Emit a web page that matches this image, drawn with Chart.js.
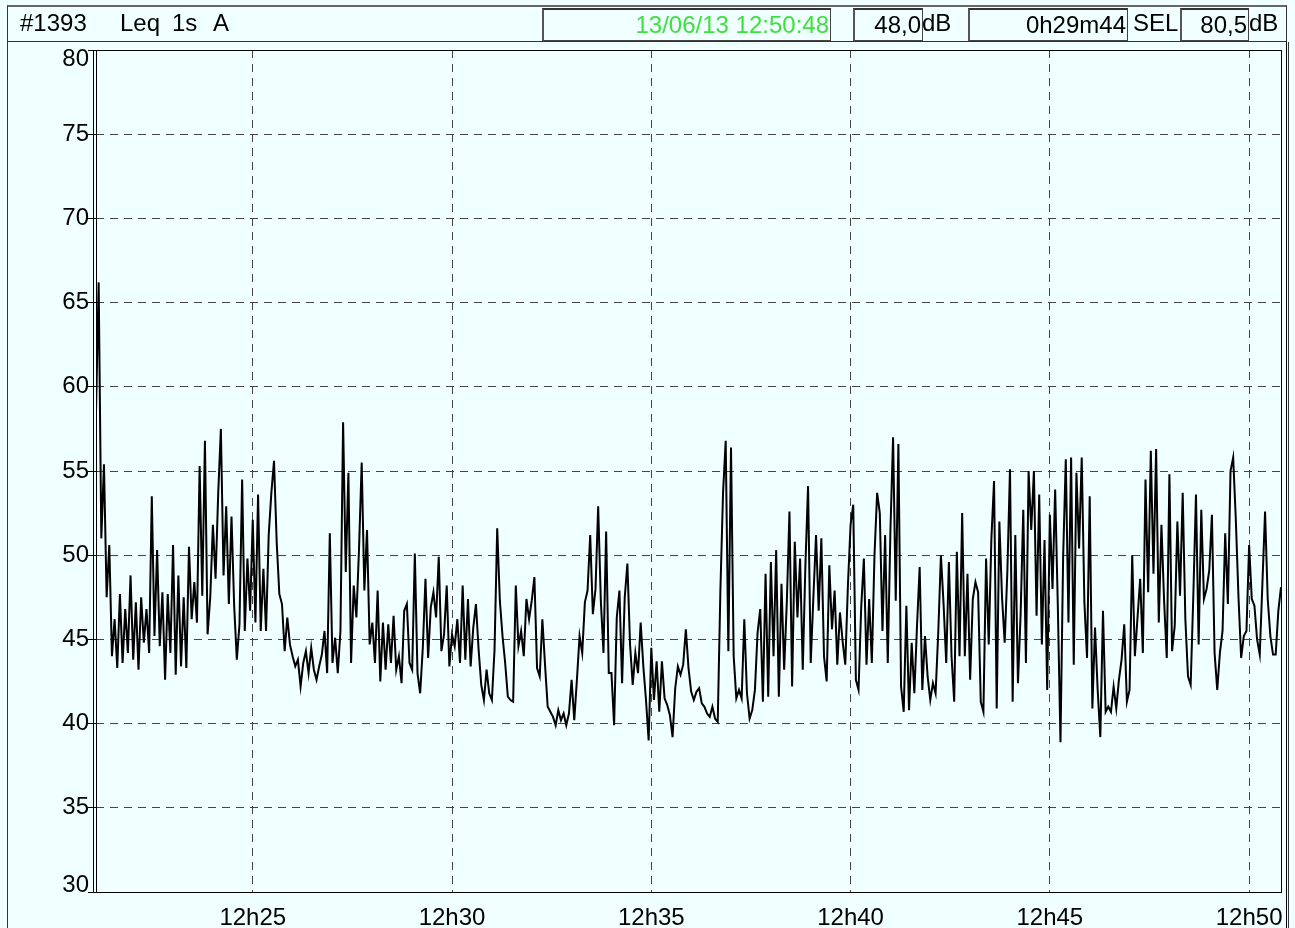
<!DOCTYPE html>
<html>
<head>
<meta charset="utf-8">
<title>Leq 1s A</title>
<script src="https://cdn.jsdelivr.net/npm/chart.js@4.4.0/dist/chart.umd.min.js"></script>
<style>
  html, body { margin: 0; padding: 0; width: 1295px; height: 928px; overflow: hidden; background: #f0ffff;
    font-family: "Liberation Sans", Arial, sans-serif; }
  #chart { position: absolute; left: 0; top: 0; }
  #frame { position: absolute; left: 7px; top: 42px; width: 1280px; height: 890px;
    border-left: 1px solid #333; border-right: 1px solid #333; }
  #header { position: absolute; left: 7px; top: 5px; width: 1280px; height: 37px;
    border-top: 2px solid #666; border-left: 1px solid #333; border-right: 1px solid #333; border-bottom: 1px solid #333; box-sizing: border-box; }
  .txt { position: absolute; top: 11px; font-size: 24px; line-height: 24px; color: #000; white-space: pre; }
  .box { position: absolute; top: 8px; height: 33px; box-sizing: border-box;
    border: 1px solid #444; border-top: 2px solid #333; border-left: 2px solid #555; }
  .box span { position: absolute; right: 1px; top: 3px; font-size: 24px; line-height: 24px; white-space: pre; }
</style>
</head>
<body>
<canvas id="chart" width="1295" height="928"></canvas>
<div id="frame"></div>
<div id="header"></div>
<div class="txt" style="left:20px">#1393</div>
<div class="txt" style="left:120px">Leq</div>
<div class="txt" style="left:172px">1s</div>
<div class="txt" style="left:213px">A</div>
<div class="box" style="left:542px; width:289px"><span id="stamp" style="color:#3ee03e"></span></div>
<div class="box" style="left:853px; width:70px"><span id="leq"></span></div>
<div class="txt" style="left:922px">dB</div>
<div class="box" style="left:968px; width:160px"><span id="dur"></span></div>
<div class="txt" style="left:1133px">SEL</div>
<div class="box" style="left:1180px; width:69px"><span id="sel"></span></div>
<div class="txt" style="left:1249px">dB</div>
<script>
// header readouts
const endStamp = '13/06/13 12:50:48';
const leqTotal = '48,0';
const duration = '0h29m44';
const selTotal = '80,5';

// time axis: seconds after 12:00:00, one value every 4 s
const startSec = 21 * 60 + 4;
const stepSec = 4;
const xTickSecs = [1500, 1800, 2100, 2400, 2700, 3000];
const yTicks = [30, 35, 40, 45, 50, 55, 60, 65, 70, 75, 80];

const leq_2121 = [58.4, 66.2, 51.0, 55.4, 47.5, 50.6, 44.0, 46.2, 43.3, 47.7, 43.6, 46.8, 44.2, 48.8, 43.8,
  47.2, 43.2, 47.5, 44.8, 46.8, 44.2, 53.5, 45.2, 50.3, 44.6, 47.8, 42.6, 47.7, 44.2, 50.6, 42.9, 48.8,
  43.4, 47.5, 43.3, 50.5, 46.2, 48.4, 46.0, 55.3, 47.6, 56.8, 45.3];
const leq_2424 = [47.5, 51.8, 48.6, 53.7, 57.5, 48.8, 52.9, 47.1, 52.3, 47.0, 43.8, 45.9, 54.5, 45.5, 49.8,
  46.7, 52.1, 46.0, 53.6, 45.5, 49.2, 45.5, 51.2, 53.7, 55.6, 50.8, 47.7, 47.1, 44.3, 46.3, 44.7, 44.0,
  43.4, 43.8, 42.2, 43.6, 44.3, 43.0, 44.5, 43.2, 42.6];
const leq_2700 = [43.4, 44.1, 45.5, 43.0, 51.3, 43.6, 45.1, 43.0, 45.5, 57.9, 49.0, 54.9, 43.6, 48.2, 46.3,
  50.4, 55.5, 47.9, 51.5, 44.7, 46.0, 43.6, 47.9, 42.5, 46.0, 43.2, 45.9, 43.6, 46.4, 43.2, 44.0, 42.4,
  46.7, 47.1, 43.6, 43.2, 50.1, 43.0, 41.8, 44.5, 48.6, 43.9];
const leq_2948 = [46.9, 47.8, 46.3, 49.9, 44.3, 45.3, 48.2, 43.4, 45.3, 44.6, 46.2, 43.6, 48.2, 43.8, 47.4,
  43.4, 45.7, 47.1, 44.4, 42.3, 41.4, 43.2, 41.8, 41.4, 44.4, 51.6, 47.3, 45.2, 43.6, 41.6, 41.4, 41.3,
  48.2, 44.6, 45.5, 44.0, 47.4, 46.2, 47.3, 48.7, 43.3];
const leq_3232 = [42.8, 46.2, 43.5, 41.0, 40.7, 40.4, 39.9, 40.8, 40.2, 40.6, 39.9, 40.6, 42.6, 40.2, 42.6,
  45.2, 44.2, 47.2, 47.9, 51.2, 46.5, 48.0, 52.9, 47.3, 44.2, 51.4, 43.0, 43.0, 39.9, 46.3, 47.9, 42.4,
  47.5, 49.5, 44.7, 42.3, 44.2, 43.0, 46.0, 43.4, 41.4];
const leq_3516 = [39.0, 44.5, 41.4, 43.7, 40.7, 43.7, 41.5, 41.1, 40.5, 39.2, 42.1, 43.4, 42.9, 43.5, 45.6,
  43.3, 41.9, 41.4, 41.9, 42.1, 41.2, 41.0, 40.6, 40.4, 41.0, 40.3, 40.1, 47.9, 53.7, 56.8, 44.3, 56.4,
  44.0, 41.5, 42.0, 41.5, 46.2, 41.8, 40.3, 40.8, 42.0, 45.4];
const leq_3804 = [46.8, 41.3, 48.9, 41.6, 49.6, 44.0, 50.3, 41.6, 48.3, 43.2, 47.2, 52.6, 42.2, 50.8, 46.3,
  49.8, 43.2, 49.4, 54.1, 43.6, 47.5, 51.2, 46.7, 51.0, 44.0, 42.5, 49.4, 45.6, 47.9, 43.5, 46.6, 44.9,
  43.5, 48.2, 51.8, 53.0, 42.6, 42.0, 46.9, 49.8, 43.5];
const leq_4048 = [47.4, 43.6, 50.0, 53.7, 52.5, 45.5, 51.2, 43.6, 51.5, 57.0, 47.3, 56.6, 42.2, 40.7, 47.0,
  40.8, 44.8, 41.8, 45.8, 49.3, 42.0, 45.2, 42.8, 41.4, 42.4, 41.8, 45.4, 50.0, 47.1, 43.6, 49.6, 44.0,
  41.3, 50.2, 44.0, 52.5, 44.0, 48.9, 42.6, 47.4, 48.4];
const leq_4332 = [47.8, 41.3, 40.7, 49.8, 44.7, 51.0, 54.4, 40.9, 52.0, 47.5, 44.8, 49.0, 55.1, 41.3, 51.2,
  42.4, 46.5, 52.7, 43.6, 55.0, 51.5, 55.0, 46.4, 53.6, 44.7, 50.9, 42.0, 52.4, 48.0, 53.9, 47.0, 38.9,
  49.9, 55.7, 46.0, 55.8, 43.5, 54.9, 50.4, 55.8, 47.2, 43.9];
const leq_4620 = [53.5, 40.9, 45.7, 42.0, 39.2, 46.7, 40.7, 41.0, 40.7, 42.2, 40.9, 42.6, 43.8, 45.9, 41.3,
  42.0, 50.0, 44.0, 46.3, 48.6, 44.2, 54.5, 47.8, 56.2, 48.9, 56.3, 46.0, 51.8, 47.3, 43.9, 54.8, 44.3,
  45.8, 52.0, 47.6, 53.7, 46.2, 42.8, 42.3, 47.6, 53.6];
const leq_4904 = [44.7, 52.7, 47.4, 48.0, 49.1, 52.4, 44.2, 42.0, 44.2, 45.5, 51.3, 47.1, 55.0, 55.8, 52.1,
  47.5, 43.9, 45.2, 45.5, 50.6, 47.4, 47.0, 45.0, 44.1, 48.3, 52.6, 47.4, 45.2, 44.1, 44.1, 46.7, 48.1];

const leqValues = [].concat(leq_2121, leq_2424, leq_2700, leq_2948, leq_3232, leq_3516,
  leq_3804, leq_4048, leq_4332, leq_4620, leq_4904);
const points = leqValues.map((v, i) => ({ x: startSec + i * stepSec, y: v }));
const endSec = startSec + (leqValues.length - 1) * stepSec;

document.getElementById('stamp').textContent = endStamp;
document.getElementById('leq').textContent = leqTotal;
document.getElementById('dur').textContent = duration;
document.getElementById('sel').textContent = selTotal;

const FONT = '"Liberation Sans", Arial, sans-serif';

// y labels drawn by hand so the 80 and 30 stay inside the frame like the original
const yLabels = {
  id: 'yLabels',
  afterDraw(chart) {
    const { ctx, chartArea, scales } = chart;
    ctx.save();
    ctx.font = '24px ' + FONT;
    ctx.fillStyle = '#000';
    ctx.textAlign = 'right';
    ctx.textBaseline = 'middle';
    yTicks.forEach(v => {
      let py = scales.y.getPixelForValue(v);
      py = Math.min(Math.max(py, chartArea.top + 9), chartArea.bottom - 7);
      ctx.fillText(String(v), chartArea.left - 7, py);
    });
    ctx.restore();
  }
};

const plotFrame = {
  id: 'plotFrame',
  afterDatasetsDraw(chart) {
    const { ctx, chartArea: a } = chart;
    ctx.save();
    ctx.strokeStyle = '#000';
    ctx.lineWidth = 1;
    ctx.strokeRect(a.left + 0.5, a.top + 0.5, a.right - a.left, a.bottom - a.top);
    ctx.beginPath();
    ctx.moveTo(a.left - 2.5, a.top);
    ctx.lineTo(a.left - 2.5, a.bottom);
    ctx.moveTo(a.right + 5.5, a.top - 8);
    ctx.lineTo(a.right + 5.5, a.bottom + 36);
    ctx.stroke();
    ctx.restore();
  }
};

new Chart(document.getElementById('chart'), {
  type: 'line',
  data: {
    datasets: [{
      data: points,
      borderColor: '#000',
      borderWidth: 2,
      pointRadius: 0,
      tension: 0,
      fill: false
    }]
  },
  options: {
    responsive: false,
    animation: false,
    events: [],
    layout: { padding: { left: 0, top: 50, right: 14, bottom: 0 } },
    plugins: { legend: { display: false }, tooltip: { enabled: false } },
    scales: {
      x: {
        type: 'linear',
        min: startSec,
        max: endSec,
        afterBuildTicks: s => { s.ticks = xTickSecs.map(v => ({ value: v })); },
        afterFit: s => { s.height = 36; },
        grid: { color: '#444', lineWidth: 1, drawTicks: false },
        border: { display: false, dash: [8, 6] },
        ticks: {
          padding: 12,
          color: '#000',
          font: { family: FONT, size: 24 },
          maxRotation: 0,
          callback: v => {
            const m = Math.round(v / 60);
            return '12h' + String(m).padStart(2, '0');
          }
        }
      },
      y: {
        min: 30,
        max: 80,
        afterBuildTicks: s => { s.ticks = yTicks.map(v => ({ value: v })); },
        afterFit: s => { s.width = 96; },
        grid: { color: '#444', lineWidth: 1, drawTicks: true, tickLength: 8, tickColor: '#000', tickBorderDash: [] },
        border: { display: false, dash: [8, 6] },
        ticks: { display: false }
      }
    }
  },
  plugins: [yLabels, plotFrame]
});
</script>
</body>
</html>
